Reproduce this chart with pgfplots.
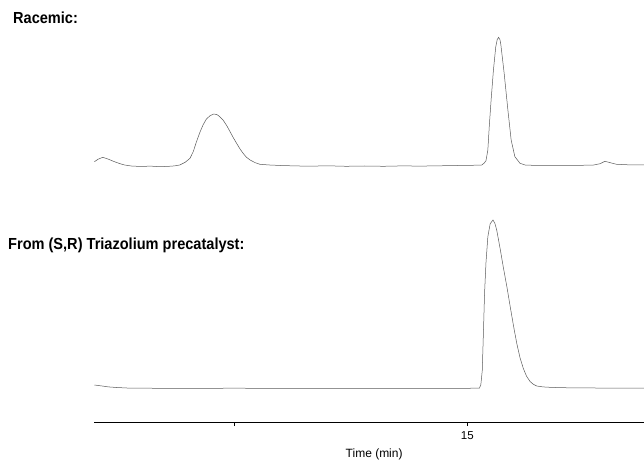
\documentclass[border=0pt]{standalone}
\usepackage{fontspec}
\setmainfont{Liberation Sans}
\usepackage{pgfplots}
\pgfplotsset{compat=1.18}
\usepackage{pgfplotstable}

% racemic trace (signal offset upwards)
\pgfplotstableread{
t v
7.00 261
7.08 263.5
7.18 265.4
7.30 263.5
7.43 261
7.55 259
7.65 257.7
7.79 256.7
8.00 256.2
8.20 256.6
8.40 256.0
8.60 256.4
8.72 256.8
8.83 257.7
8.95 260.5
9.05 264.4
9.12 271
9.19 281
9.26 290
9.33 297.7
9.40 303.5
9.48 307
9.55 308.5
9.62 308.4
9.69 306
9.76 302.7
9.84 297
9.91 291
9.98 285
10.05 279.4
10.12 274
10.19 269.4
10.26 265.5
10.34 262.7
10.45 260
10.55 258.4
10.76 257.7
11.00 257.2
11.30 256.8
11.60 256.5
12.00 256.9
12.40 256.4
12.80 256.7
13.20 256.4
13.60 256.8
14.00 256.6
14.40 256.9
14.80 257.2
15.10 257.4
15.31 257.7
15.36 259.5
15.40 262
15.44 272.7
15.47 296
15.51 322.7
15.56 352.7
15.61 376
15.64 383
15.67 385.4
15.70 383
15.72 377.7
15.79 349.4
15.87 312.7
15.94 282.7
16.02 266
16.13 259.4
16.24 257.7
16.50 257.2
16.90 257.4
17.30 257.3
17.70 257.6
17.85 259
17.95 261.4
18.05 260.2
18.20 258.4
18.45 257.9
18.79 257.8
}\racemic

% (S,R) triazolium trace
\pgfplotstableread{
t v
7.00 37.7
7.15 36.8
7.30 35.8
7.48 35.2
7.70 34.7
8.00 34.5
9.00 34.3
10.00 34.5
11.00 34.3
12.00 34.4
13.00 34.3
14.00 34.4
15.00 34.4
15.26 34.6
15.29 38
15.32 52
15.345 90
15.37 130
15.40 160
15.44 186
15.49 199
15.55 202.7
15.59 199.5
15.63 192.7
15.70 175
15.77 156
15.85 135.5
15.92 116
15.99 97
16.06 79.4
16.13 65
16.20 54.4
16.27 46.5
16.35 41
16.42 38.3
16.49 36.7
16.62 35.8
16.77 35.4
17.00 35.0
17.50 34.8
18.00 34.6
18.79 34.5
}\triazolium

\begin{document}
\begin{tikzpicture}
\begin{axis}[
  scale only axis,
  width=549.6pt, height=422.7pt,
  xmin=7, xmax=18.79,
  ymin=0, ymax=422.7,
  axis y line=none,
  axis x line=bottom,
  x axis line style={-, line width=0.9pt},
  xtick={10,15},
  xticklabels={,15},
  xtick align=outside,
  major tick length=3.5pt,
  tick style={black, line width=0.7pt},
  xticklabel style={font=\fontsize{11.5}{13}\selectfont, yshift=-1.5pt},
  xlabel={Time (min)},
  xlabel style={font=\fontsize{12}{14}\selectfont, at={(axis description cs:0.509,0)}, anchor=center, yshift=-32pt},
]
\addplot[black!65, line width=0.5pt] table[x=t, y=v] {\racemic};
\addplot[black!65, line width=0.5pt] table[x=t, y=v] {\triazolium};
\end{axis}
\node[anchor=west, inner sep=0pt] at (-81.4pt, 404.7pt) {\scalebox{0.91}[1]{\bfseries\fontsize{16}{18}\selectfont Racemic:}};
\node[anchor=west, inner sep=0pt] at (-86.4pt, 177.7pt) {\scalebox{0.91}[1]{\bfseries\fontsize{16}{18}\selectfont From (S,R) Triazolium precatalyst:}};
\pgfresetboundingbox
\useasboundingbox (-94.4pt,-40.3pt) rectangle (549.6pt,422.7pt);
\end{tikzpicture}
\end{document}
